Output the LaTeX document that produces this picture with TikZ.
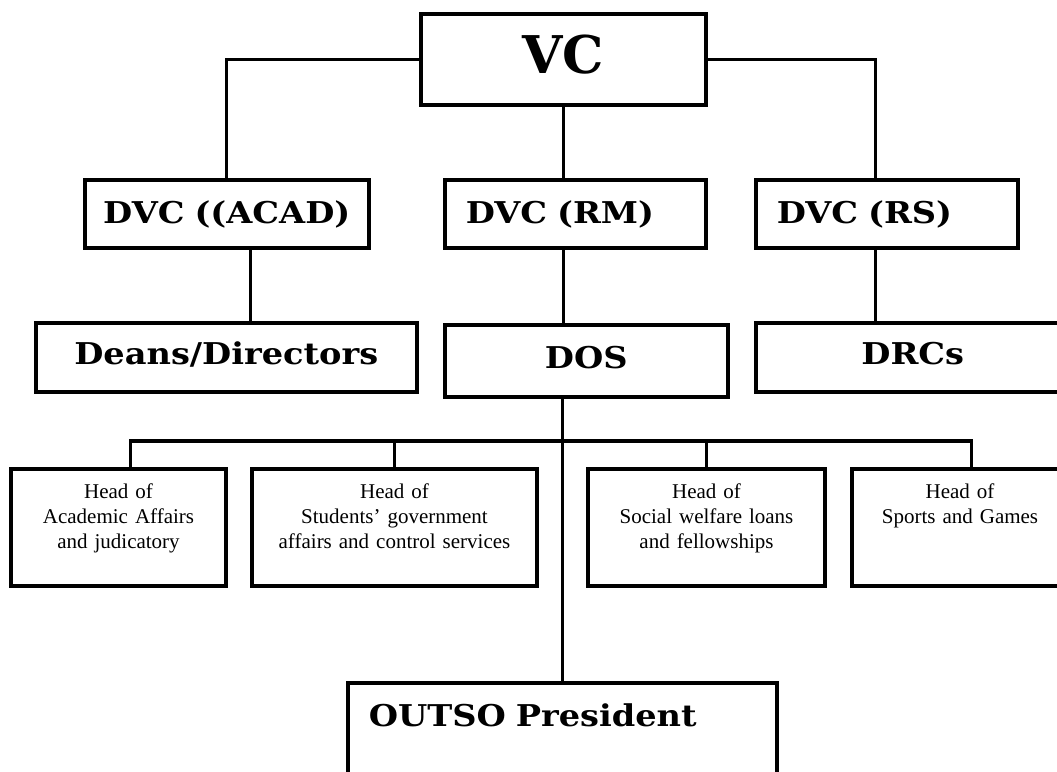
\documentclass[tikz,border=0pt]{standalone}
\usepackage{fontspec}
\setmainfont{Liberation Serif}
\newfontfamily\bookfont[FakeStretch=1.12]{DejaVu Serif}
\newfontfamily\vcfont{DejaVu Serif}
\usepackage{tikz}
\usetikzlibrary{shapes.geometric, arrows}

\begin{document}
\begin{tikzpicture}[x=1pt, y=-1pt]
\tikzstyle{unit} = [rectangle, draw=black, line width=3.5pt, inner sep=0pt, anchor=north west]
\tikzstyle{bigtext} = [font=\bookfont\bfseries\fontsize{30}{36}\selectfont]
\tikzstyle{office} = [unit, bigtext, align=center, text height=43pt, text depth=26pt]
\tikzstyle{deputy} = [unit, bigtext, align=left, inner xsep=21pt, text height=44pt, text depth=24pt]
\tikzstyle{head} = [unit, line width=4pt, align=center, text height=29pt, text depth=88pt, font=\fontsize{21}{25}\selectfont]
\tikzstyle{link} = [line width=3pt]
\tikzstyle{bus} = [line width=4.5pt]

\useasboundingbox (0,0) rectangle (1057,771);
\clip (0,0) rectangle (1057,771);

\node (vc) [unit, align=center, text width=285pt, text height=60pt, text depth=31pt, font=\vcfont\bfseries\fontsize{52}{60}\selectfont] at (419,12) {VC};

\node (acad) [office, text width=284pt, text height=44pt, text depth=24pt] at (83,178) {DVC ((ACAD)};
\node (rm) [deputy, text width=219pt] at (443,178) {DVC (RM)};
\node (rs) [deputy, text width=220pt] at (754,178) {DVC (RS)};

\node (deans) [office, text width=381pt, text height=42pt, text depth=27pt] at (34,321) {Deans/Directors};
\node (dos) [office, text width=283pt, text height=44pt, text depth=28pt] at (443,323) {DOS};
\node (drcs) [office, text width=314pt, text height=42pt, text depth=27pt] at (754,321) {DRCs};

\node (h1) [head, text width=215pt] at (9,467) {Head of\\Academic Affairs\\and judicatory};
\node (h2) [head, text width=285pt] at (250,467) {Head of\\Students’ government\\affairs and control services};
\node (h3) [head, text width=237pt] at (586,467) {Head of\\Social welfare loans\\and fellowships};
\node (h4) [head, text width=216pt] at (850,467) {Head of\\Sports and Games};

\node (outso) [deputy, text width=387pt, text height=44pt, text depth=75pt] at (346,681) {OUTSO President};

\draw [link] (vc.west) -| (acad.north);
\draw [link] (vc.east) -| ([xshift=-11pt]rs.north);
\draw [link] (vc.south) -- (vc.south |- rm.north);
\coordinate (acaddrop) at ([xshift=24pt]acad.south);
\draw [link] (acaddrop) -- (acaddrop |- deans.north);
\draw [link] (vc.south |- rm.south) -- (vc.south |- dos.north);
\coordinate (rsdrop) at ([xshift=-11pt]rs.south);
\draw [link] (rsdrop) -- (rsdrop |- drcs.north);
\draw [link] (outso.north |- dos.south) -- (outso.north);

% bar under DOS with its four drops
\coordinate (bar) at (560,441);
\coordinate (d1) at ([xshift=12pt]h1.north);
\coordinate (d4) at ([xshift=11pt]h4.north);
\draw [bus] ([xshift=-1.5pt]d1 |- bar) -- ([xshift=1.5pt]d4 |- bar);
\draw [link] (d1) -- (d1 |- bar);
\draw [link] (h2.north) -- (h2.north |- bar);
\draw [link] (h3.north) -- (h3.north |- bar);
\draw [link] (d4) -- (d4 |- bar);
\end{tikzpicture}
\end{document}
